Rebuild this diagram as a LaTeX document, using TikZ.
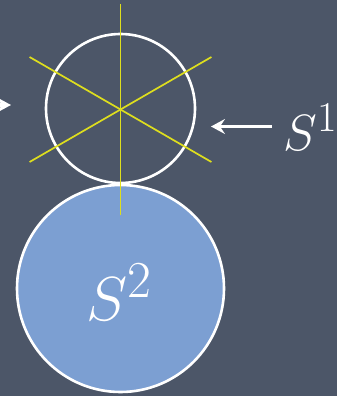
\documentclass[tikz,border=0pt]{standalone}
\usetikzlibrary{arrows.meta,calc}
\definecolor{slate}{RGB}{76,86,104}
\definecolor{skyfill}{RGB}{124,159,210}
\definecolor{yel}{RGB}{222,222,30}
\begin{document}
\begin{tikzpicture}[x=1pt,y=-1pt,
  ring/.style={circle,draw=white,line width=2.6pt,inner sep=0pt},
  axisline/.style={draw=yel,line width=1.7pt},
  pointer/.style={draw=white,line width=3.6pt,-{Stealth[length=14pt,width=15pt,inset=5pt]}},
  lbl/.style={text=white,inner sep=0pt,anchor=base west,font=\Huge}]
\fill[slate] (0,0) rectangle (337,396);
\useasboundingbox (0,0) rectangle (337,396);
\node[ring,fill=skyfill,minimum size=207pt] (big) at (120.5,288.5) {};
\node[ring,minimum size=149pt] (small) at (120.5,108.5) {};
\coordinate (c) at (120.5,109.5);
\foreach \a/\n in {90/v,30/p,-30/m}{
  \coordinate (\n1) at ($(c)+(\a:105)$);
  \coordinate (\n2) at ($(c)+(\a+180:105)$);
}
\draw[axisline] (v1) -- (v2);
\draw[axisline] (p1) -- (p2);
\draw[axisline] (m1) -- (m2);
\node[lbl,scale=2.5] (s2) at (86,320) {$S^2$};
\node[lbl,scale=2.05] (s1) at (283,150) {$S^1$};
\coordinate (a1s) at (272,126.5);
\coordinate (a1e) at (211,126.5);
\draw[pointer] (a1s) -- (a1e);
\coordinate (a2s) at (-30,105);
\coordinate (a2e) at (11,105);
\draw[pointer] (a2s) -- (a2e);
\end{tikzpicture}
\end{document}
